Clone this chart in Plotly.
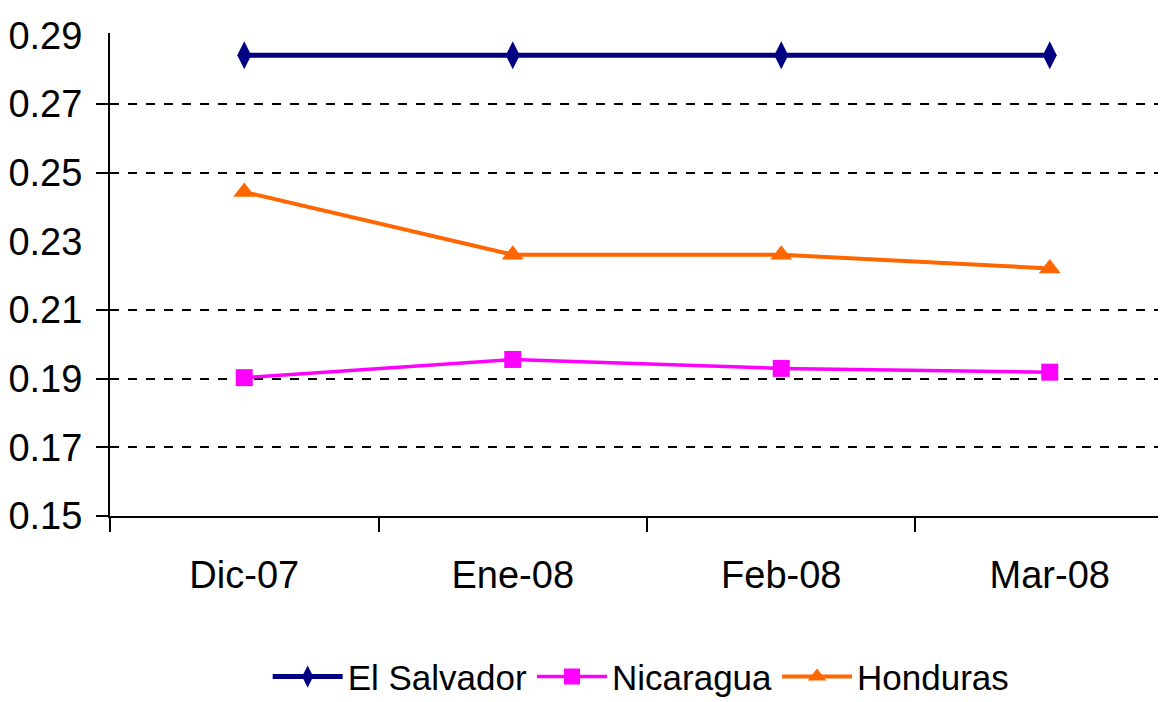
import plotly.graph_objects as go

# values
categories = ["Dic-07", "Ene-08", "Feb-08", "Mar-08"]
el_salvador = [0.2842, 0.2842, 0.2842, 0.2842]
nicaragua = [0.1903, 0.1956, 0.1930, 0.1919]
honduras = [0.2444, 0.2261, 0.2261, 0.2221]
y_ticks = [0.15, 0.17, 0.19, 0.21, 0.23, 0.25, 0.27, 0.29]
grid_vals = [0.15, 0.17, 0.19, 0.21, 0.25, 0.27]

font_family = "Liberation Sans, Arial, sans-serif"

fig = go.Figure()
fig.add_trace(go.Scatter(x=categories, y=el_salvador, name="El Salvador",
                         mode="lines+markers",
                         line=dict(color="#000080", width=5),
                         marker=dict(symbol="diamond-tall", size=20, color="#000080")))
fig.add_trace(go.Scatter(x=categories, y=nicaragua, name="Nicaragua",
                         mode="lines+markers",
                         line=dict(color="#FF00FF", width=3.5),
                         marker=dict(symbol="square", size=17, color="#FF00FF")))
fig.add_trace(go.Scatter(x=categories, y=honduras, name="Honduras",
                         mode="lines+markers",
                         line=dict(color="#FF6600", width=4),
                         marker=dict(symbol="triangle-up", size=19, color="#FF6600")))

# invisible trace on the overlay axis so the dashed grid gets drawn
fig.add_trace(go.Scatter(x=categories, y=el_salvador, yaxis="y2",
                         mode="markers", marker=dict(opacity=0),
                         showlegend=False, hoverinfo="skip"))

yrange = [0.15, 0.2907]

# page body has an 8px margin, so the figure is a bit smaller than the window
fig.update_layout(
    width=1158, height=694,
    margin=dict(l=102, r=0, t=25, b=186, autoexpand=False),
    plot_bgcolor="white", paper_bgcolor="white",
    font=dict(family=font_family, size=38, color="black"),
    xaxis=dict(type="category", range=[-0.5, 3.433], automargin=False,
               showline=True, linecolor="black", linewidth=2,
               ticks="outside", tickson="boundaries", ticklen=14,
               tickwidth=2, tickcolor="black", showgrid=False,
               ticklabelstandoff=24, zeroline=False),
    yaxis=dict(range=yrange, tickvals=y_ticks, automargin=False,
               ticktext=[f"{v:.2f}" for v in y_ticks],
               showline=True, linecolor="black", linewidth=2,
               showgrid=False, zeroline=False, ticks="",
               ticklabelstandoff=18),
    yaxis2=dict(range=yrange, overlaying="y", side="left", automargin=False,
                tickvals=grid_vals, showticklabels=False,
                ticks="outside", ticklen=13, tickwidth=2, tickcolor="black",
                showgrid=True, gridcolor="black", gridwidth=2, griddash="dash",
                zeroline=False, showline=False),
    legend=dict(orientation="h", x=0.503, xanchor="center",
                y=-0.333, yanchor="middle",
                font=dict(size=35), itemwidth=70,
                bgcolor="rgba(0,0,0,0)"),
    showlegend=True,
)

fig.write_html("out.html")
